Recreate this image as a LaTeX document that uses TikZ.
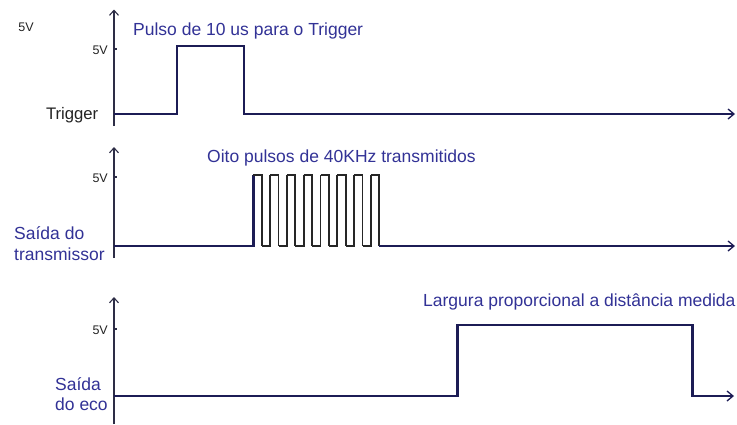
\documentclass[tikz,border=0pt]{standalone}
\usepackage{fontspec}
\setmainfont{Liberation Sans}
\usetikzlibrary{arrows.meta}
\definecolor{sig}{RGB}{28,28,85}
\definecolor{axc}{RGB}{45,45,70}
\definecolor{bluetxt}{RGB}{50,50,150}
\definecolor{blk}{RGB}{35,35,35}
\begin{document}
\begin{tikzpicture}[x=1pt,y=-1pt,
  axisline/.style={draw=axc, line width=1.3pt, -{Straight Barb[length=5pt,width=9pt,line width=1.1pt]}},
  sigline/.style={draw=sig, line width=2.6pt, line join=miter},
  sigarrow/.style={sigline, -{Straight Barb[length=6pt,width=10pt,line width=1.3pt]}},
  pulseline/.style={draw=black!85, line width=1.7pt, line join=miter},
  tickmark/.style={draw=axc, line width=1.3pt},
  vlab/.style={inner sep=0pt, text=blk, font=\fontsize{12.5}{14}\selectfont},
  namelab/.style={inner sep=0pt, text=blk, font=\fontsize{16.7}{19}\selectfont},
  bluelab/.style={inner sep=0pt, text=bluetxt, font=\fontsize{17.5}{20}\selectfont},
]
\useasboundingbox (0,0) rectangle (737,424);
\fill[white] (0,0) rectangle (737,424);

% ---------- panel 1 : trigger ----------
\coordinate (a1b) at (114,126);
\coordinate (a1t) at (114,9.5);
\draw[axisline] (a1b) -- (a1t);
\coordinate (k1a) at (114,49);
\coordinate (k1b) at (117,49);
\draw[tickmark] (k1a) -- (k1b);
\coordinate (s1a) at (114,114);
\coordinate (s1e) at (735,114);
\draw[sigarrow] (s1a) -- (177,114) -- (177,46) -- (244,46) -- (244,114) -- (s1e);

\node[vlab, anchor=center] (v0) at (26,27) {5V};
\node[vlab, anchor=east] (v1) at (108,50.5) {5V};
\node[namelab, anchor=base east] (trig) at (98.5,119.5) {Trigger};
\node[bluelab, anchor=base west] (t1) at (133,35) {Pulso de 10 us para o Trigger};

% ---------- panel 2 : transmitter ----------
\coordinate (a2b) at (114,258);
\coordinate (a2t) at (114,147);
\draw[axisline] (a2b) -- (a2t);
\coordinate (k2a) at (114,177);
\coordinate (k2b) at (117,177);
\draw[tickmark] (k2a) -- (k2b);
\coordinate (s2a) at (114,246);
\coordinate (s2r) at (253.3,175);
\draw[sigline] (s2a) -- (253.3,246) -- (s2r);
\foreach \i in {0,...,7}{
  \pgfmathsetmacro{\xa}{253.3+16.8*\i}
  \pgfmathsetmacro{\xb}{\xa+8.4}
  \pgfmathsetmacro{\xc}{\xa+16.8}
  \draw[pulseline] (\xa,175) -- (\xb,175) -- (\xb,246);
  \ifnum\i<7
    \draw[pulseline] (\xb,246) -- (\xc,246) -- (\xc,175);
  \fi
}
\coordinate (s2f) at (379.3,246);
\coordinate (s2e) at (735,246);
\draw[sigarrow] (s2f) -- (s2e);

\node[vlab, anchor=east] (v2) at (108,178) {5V};
\node[bluelab, anchor=base west] (t2) at (207,162.7) {Oito pulsos de 40KHz transmitidos};
\node[bluelab, anchor=base west] (n2a) at (14,239.3) {Saída do};
\node[bluelab, anchor=base west] (n2b) at (14,260.5) {transmissor};

% ---------- panel 3 : echo ----------
\coordinate (a3b) at (114,424);
\coordinate (a3t) at (114,297);
\draw[axisline] (a3b) -- (a3t);
\coordinate (k3a) at (114,329);
\coordinate (k3b) at (117,329);
\draw[tickmark] (k3a) -- (k3b);
\coordinate (s3a) at (114,396);
\coordinate (s3e) at (734,396);
\draw[sigarrow] (s3a) -- (457.7,396) -- (457.7,325) -- (692.7,325) -- (692.7,396) -- (s3e);

\node[vlab, anchor=east] (v3) at (108,330) {5V};
\node[bluelab, anchor=base west] (t3) at (423,306) {Largura proporcional a distância medida};
\node[bluelab, anchor=base west] (n3a) at (55,390) {Saída};
\node[bluelab, anchor=base west] (n3b) at (55,410.7) {do eco};
\end{tikzpicture}
\end{document}
